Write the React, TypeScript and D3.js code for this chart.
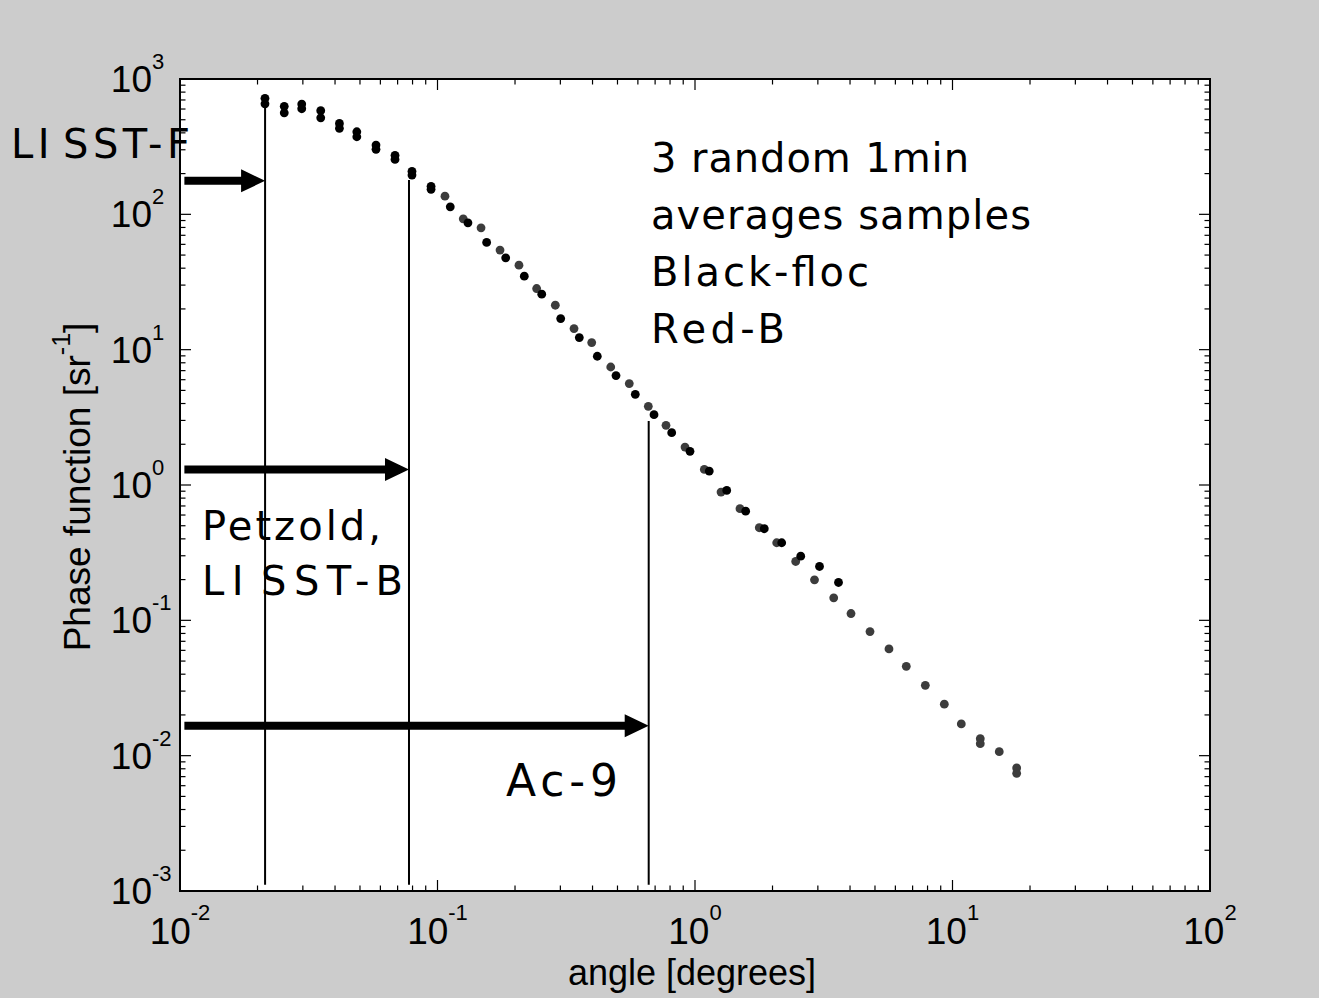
import React from 'react';
import * as d3 from 'd3';

const WIDTH = 1319;
const HEIGHT = 998;
const PLOT = { left: 180, right: 1210, top: 79, bottom: 891 };

const xDomain = [1e-2, 1e2];
const yDomain = [1e-3, 1e3];
const xExponents = [-2, -1, 0, 1, 2];
const yExponents = [-3, -2, -1, 0, 1, 2, 3];

// Floc samples (black)
const flocAngle = [
  0.02138, 0.0254, 0.0297, 0.0352, 0.0416, 0.0486, 0.0577, 0.0684, 0.0796, 0.0944,
  0.1121, 0.1313, 0.1552, 0.184, 0.2173, 0.254, 0.3009, 0.3554, 0.4174, 0.4934,
  0.5863, 0.6932, 0.8119, 0.9563, 1.136, 1.328, 1.573, 1.858, 2.171, 2.574, 3.045, 3.608,
];
const flocPhase = [
  720, 628, 653, 583, 470, 407.6, 325, 272.8, 207.7, 161,
  113.6, 86.5, 62.0, 47.7, 34.9, 25.7, 16.98, 12.29, 8.94, 6.43,
  4.68, 3.31, 2.437, 1.772, 1.267, 0.912, 0.641, 0.4752, 0.3744, 0.2979, 0.25, 0.1904,
];
// second floc sample at small angles
const flocAngleB = [0.02138, 0.0254, 0.0297, 0.0352, 0.0416, 0.0486, 0.0577, 0.0684, 0.0796, 0.0944];
const flocPhaseB = [656, 563, 603, 517, 432, 374.4, 302, 254.7, 195, 153];

// Red-B samples (drawn dark grey)
const redAngle = [
  0.1069, 0.1259, 0.1476, 0.1749, 0.2072, 0.2427, 0.2868, 0.339, 0.3971, 0.4707,
  0.5556, 0.6587, 0.7716, 0.9146, 1.087, 1.262, 1.495, 1.777, 2.076, 2.461,
  2.911, 3.457, 4.035, 4.782, 5.667, 6.615, 7.843, 9.294, 10.82, 12.82, 15.19, 17.75,
];
const redPhase = [
  136.3, 92.6, 79.5, 54.4, 42.1, 28.3, 21.3, 14.32, 11.28, 7.447,
  5.614, 3.814, 2.76, 1.907, 1.304, 0.886, 0.668, 0.4833, 0.3744, 0.2722,
  0.1993, 0.1467, 0.1123, 0.0826, 0.0615, 0.0457, 0.0331, 0.024, 0.01716, 0.01336, 0.01071, 0.00811,
];
const redAngleB = [12.82, 17.75];
const redPhaseB = [0.01227, 0.0074];

// Instrument acceptance limits
const cutoffAngle = [0.0214, 0.0775, 0.661];
const cutoffTop = [624, 179, 2.97];
const cutoffBottom = 0.00111;
const arrowStart = 0.0104;
const arrowLevel = [177, 1.304, 0.01667];

const noteLines = ['3 random 1min', 'averages samples', 'Black-floc', 'Red-B'];
const noteLengths = [318, 380, 218, 134];

const FLOC_COLOR = '#000000';
const RED_COLOR = '#3c3c3c';

export default function App() {
  const x = d3.scaleLog().domain(xDomain).range([PLOT.left, PLOT.right]);
  const y = d3.scaleLog().domain(yDomain).range([PLOT.bottom, PLOT.top]);

  const xMinor: number[] = [];
  for (let e = -2; e < 2; e++) for (let m = 2; m <= 9; m++) xMinor.push(m * 10 ** e);
  const yMinor: number[] = [];
  for (let e = -3; e < 3; e++) for (let m = 2; m <= 9; m++) yMinor.push(m * 10 ** e);

  const major = 11;
  const minor = 5.5;

  const dots = (ax: number[], ph: number[], color: string, key: string) =>
    ax.map((a, i) => (
      <circle key={key + i} cx={x(a)} cy={y(ph[i])} r={4.4} fill={color} />
    ));

  const arrowPath = (xs: number, xe: number, yv: number) => {
    const x0 = x(xs);
    const x1 = x(xe);
    const yc = y(yv);
    const hl = 24;
    const hw = 11.5;
    const sw = 4;
    return `M${x0},${yc - sw}L${x1 - hl},${yc - sw}L${x1 - hl},${yc - hw}L${x1},${yc}L${x1 - hl},${yc + hw}L${x1 - hl},${yc + sw}L${x0},${yc + sw}Z`;
  };

  const axisFont = "'Liberation Sans', Arial, Helvetica, sans-serif";
  const noteFont = "'DejaVu Sans', Verdana, sans-serif";

  return (
    <svg
      width={WIDTH}
      height={HEIGHT}
      style={{ position: 'absolute', left: 0, top: 0, display: 'block' }}
    >
      <rect x={0} y={0} width={WIDTH} height={HEIGHT} fill="#cccccc" />
      <rect
        x={PLOT.left}
        y={PLOT.top}
        width={PLOT.right - PLOT.left}
        height={PLOT.bottom - PLOT.top}
        fill="#ffffff"
      />

      {/* ticks on all four sides */}
      <g stroke="#000" strokeWidth={1.2}>
        {xExponents.map((e) => (
          <g key={'xM' + e}>
            <line x1={x(10 ** e)} x2={x(10 ** e)} y1={PLOT.bottom} y2={PLOT.bottom - major} />
            <line x1={x(10 ** e)} x2={x(10 ** e)} y1={PLOT.top} y2={PLOT.top + major} />
          </g>
        ))}
        {xMinor.map((v, i) => (
          <g key={'xm' + i}>
            <line x1={x(v)} x2={x(v)} y1={PLOT.bottom} y2={PLOT.bottom - minor} />
            <line x1={x(v)} x2={x(v)} y1={PLOT.top} y2={PLOT.top + minor} />
          </g>
        ))}
        {yExponents.map((e) => (
          <g key={'yM' + e}>
            <line x1={PLOT.left} x2={PLOT.left + major} y1={y(10 ** e)} y2={y(10 ** e)} />
            <line x1={PLOT.right} x2={PLOT.right - major} y1={y(10 ** e)} y2={y(10 ** e)} />
          </g>
        ))}
        {yMinor.map((v, i) => (
          <g key={'ym' + i}>
            <line x1={PLOT.left} x2={PLOT.left + minor} y1={y(v)} y2={y(v)} />
            <line x1={PLOT.right} x2={PLOT.right - minor} y1={y(v)} y2={y(v)} />
          </g>
        ))}
      </g>

      {/* data */}
      {dots(redAngle, redPhase, RED_COLOR, 'r')}
      {dots(redAngleB, redPhaseB, RED_COLOR, 'rb')}
      {dots(flocAngle, flocPhase, FLOC_COLOR, 'f')}
      {dots(flocAngleB, flocPhaseB, FLOC_COLOR, 'fb')}

      {/* acceptance limits */}
      {cutoffAngle.map((a, i) => (
        <line
          key={'c' + i}
          x1={x(a)}
          x2={x(a)}
          y1={y(cutoffTop[i])}
          y2={y(cutoffBottom)}
          stroke="#000"
          strokeWidth={2}
        />
      ))}
      {cutoffAngle.map((a, i) => (
        <path key={'a' + i} d={arrowPath(arrowStart, a, arrowLevel[i])} fill="#000" />
      ))}

      {/* annotations */}
      <g fontFamily={noteFont} fontSize={40} fill="#000">
        {noteLines.map((t, i) => (
          <text
            key={'n' + i}
            x={651}
            y={172 + i * 57}
            textLength={noteLengths[i]}
            lengthAdjust="spacing"
          >
            {t}
          </text>
        ))}
        <text x={11} y={158} textLength={179} lengthAdjust="spacing">
          <tspan>LI</tspan>
          <tspan dx={9}>SST-F</tspan>
        </text>
        <text x={202} y={540} textLength={179} lengthAdjust="spacing">
          Petzold,
        </text>
        <text x={202} y={595} textLength={201} lengthAdjust="spacing">
          <tspan>LI</tspan>
          <tspan dx={10}>SST-B</tspan>
        </text>
        <text x={506} y={796} fontSize={44} textLength={112} lengthAdjust="spacing">
          Ac-9
        </text>
      </g>

      {/* axes box */}
      <rect
        x={PLOT.left}
        y={PLOT.top}
        width={PLOT.right - PLOT.left}
        height={PLOT.bottom - PLOT.top}
        fill="none"
        stroke="#000"
        strokeWidth={2}
      />

      {/* tick labels */}
      <g fontFamily={axisFont} fill="#000">
        {xExponents.map((e) => (
          <text key={'xl' + e} x={x(10 ** e)} y={944} fontSize={37} textAnchor="middle">
            10
            <tspan dy={-24} fontSize={22}>
              {String(e)}
            </tspan>
          </text>
        ))}
        {yExponents.map((e) => (
          <g key={'yl' + e}>
            <text x={152} y={y(10 ** e) + 13} fontSize={37} textAnchor="end">
              10
            </text>
            <text x={152} y={y(10 ** e) - 10} fontSize={22} textAnchor="start">
              {String(e)}
            </text>
          </g>
        ))}
        <text x={692} y={985} fontSize={36} textAnchor="middle">
          angle [degrees]
        </text>
        <text
          transform={`translate(90, ${(PLOT.top + PLOT.bottom) / 2 + 2}) rotate(-90)`}
          fontSize={37}
          textAnchor="middle"
        >
          Phase function [sr
          <tspan dy={-20} fontSize={25}>
            -1
          </tspan>
          <tspan dy={20}>]</tspan>
        </text>
      </g>
    </svg>
  );
}
